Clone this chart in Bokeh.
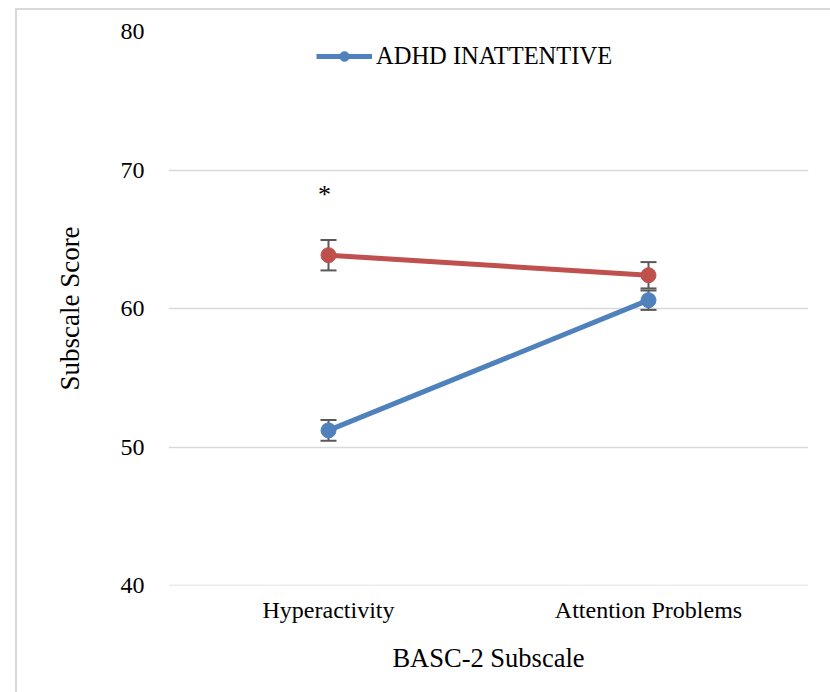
from bokeh.plotting import figure
from bokeh.models import ColumnDataSource, Whisker, TeeHead, Legend, LegendItem, FactorRange, Span
from bokeh.core.properties import value
from bokeh.embed import file_html
from bokeh.resources import INLINE

categories = ["Hyperactivity", "Attention Problems"]
inattentive = [51.2, 60.6]
inattentive_err = [0.75, 0.7]
other = [63.85, 62.4]
other_err = [1.1, 0.95]
series_name = "ADHD INATTENTIVE"
star_x = ["Hyperactivity"]
star_y = [68.2]
y_ticks = [40, 50, 60, 70, 80]

BLUE = "#4F81BD"
RED = "#C0504D"
GRID = "#d9d9d9"
FONT = "Liberation Serif"

p = figure(width=815, height=684, x_range=FactorRange(*categories, range_padding=0),
           y_range=(40, 80), output_backend="svg", toolbar_location=None,
           min_border_left=151, min_border_right=24, min_border_top=21, min_border_bottom=109)
p.margin = (8, 0, 0, 15)
p.styles = {"border-top": "2px solid #d9d9d9", "border-left": "2px solid #d9d9d9"}
p.outline_line_color = None
p.background_fill_color = "white"
p.border_fill_color = "white"

p.xgrid.grid_line_color = None
p.ygrid.grid_line_color = GRID
p.ygrid.grid_line_width = 1.5
p.add_layout(Span(location=y_ticks[0], dimension="width", line_color=GRID, line_width=1.5))
p.yaxis.ticker = y_ticks
p.yaxis.axis_line_color = None
p.yaxis.major_tick_line_color = None
p.yaxis.minor_tick_line_color = None
p.yaxis.major_label_standoff = 18
p.yaxis.major_label_text_font = FONT
p.yaxis.major_label_text_font_size = "24px"
p.yaxis.major_label_text_color = "#000000"
p.yaxis.axis_label = "Subscale Score"
p.yaxis.axis_label_text_font = FONT
p.yaxis.axis_label_text_font_size = "27px"
p.yaxis.axis_label_text_font_style = "normal"
p.yaxis.axis_label_text_color = "#000000"
p.yaxis.axis_label_standoff = 33

p.xaxis.axis_line_color = None
p.xaxis.major_tick_line_color = None
p.xaxis.minor_tick_line_color = None
p.xaxis.major_label_standoff = 5
p.xaxis.major_label_text_font = FONT
p.xaxis.major_label_text_font_size = "24px"
p.xaxis.major_label_text_color = "#000000"
p.xaxis.axis_label = "BASC-2 Subscale"
p.xaxis.axis_label_text_font = FONT
p.xaxis.axis_label_text_font_size = "26.5px"
p.xaxis.axis_label_text_font_style = "normal"
p.xaxis.axis_label_text_color = "#000000"
p.xaxis.axis_label_standoff = 17

src_b = ColumnDataSource(dict(x=categories, y=inattentive,
                              lo=[v - e for v, e in zip(inattentive, inattentive_err)],
                              hi=[v + e for v, e in zip(inattentive, inattentive_err)]))
src_r = ColumnDataSource(dict(x=categories, y=other,
                              lo=[v - e for v, e in zip(other, other_err)],
                              hi=[v + e for v, e in zip(other, other_err)]))

for src in (src_r, src_b):
    w = Whisker(source=src, base="x", lower="lo", upper="hi", line_color="#595959", line_width=2,
                upper_head=TeeHead(size=16, line_color="#595959", line_width=2),
                lower_head=TeeHead(size=16, line_color="#595959", line_width=2))
    p.add_layout(w)

lr = p.line("x", "y", source=src_r, line_color=RED, line_width=5)
cr = p.scatter("x", "y", source=src_r, size=15, fill_color=RED, line_color=RED)
lb = p.line("x", "y", source=src_b, line_color=BLUE, line_width=5)
cb = p.scatter("x", "y", source=src_b, size=15, fill_color=BLUE, line_color=BLUE)

p.text(x=star_x, y=star_y, text=["*"], text_font=value(FONT), text_font_size="26px",
       text_align="center", text_baseline="middle", text_color="#000000", x_offset=-4)

legend = Legend(items=[LegendItem(label=series_name, renderers=[lb, cb])],
                location=(148, 515), padding=0, margin=0, border_line_color=None,
                background_fill_alpha=0, glyph_width=56, glyph_height=24, label_height=24,
                label_standoff=4, label_text_font=FONT, label_text_font_size="24.5px",
                label_text_color="#000000")
p.add_layout(legend)

open("out.html", "w").write(file_html(p, INLINE))
